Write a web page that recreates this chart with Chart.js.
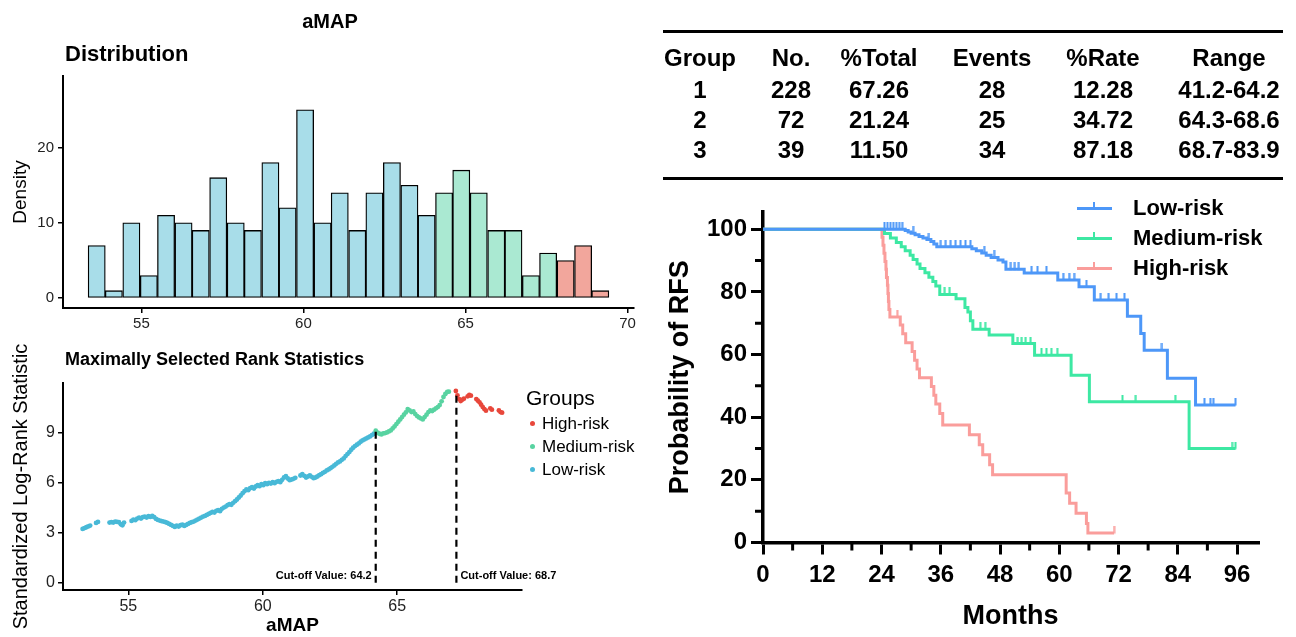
<!DOCTYPE html>
<html>
<head>
<meta charset="utf-8">
<title>aMAP</title>
<script src="https://cdn.jsdelivr.net/npm/chart.js@4.4.1/dist/chart.umd.min.js"></script>
<style>
  html, body { margin: 0; padding: 0; background: #fff; }
  body { width: 1296px; height: 637px; position: relative; overflow: hidden;
         font-family: "Liberation Sans", Arial, sans-serif; color: #000; }
  .txt { position: absolute; white-space: nowrap; }
  canvas { position: absolute; }
  .rule { position: absolute; background: #000; }
</style>
</head>
<body>
<canvas id="hist" width="650" height="340" style="left:0;top:0"></canvas>
<canvas id="rank" width="650" height="302" style="left:0;top:335px"></canvas>
<canvas id="km" width="646" height="452" style="left:650px;top:185px"></canvas>

<div class="rule" style="left:663px;top:30px;width:620px;height:3px"></div>
<div class="rule" style="left:663px;top:177px;width:620px;height:3px"></div>

<script>
// ---------- histogram (Distribution) ----------
const binCenters = [53.62, 54.15, 54.69, 55.23, 55.76, 56.30, 56.83, 57.37, 57.91, 58.44,
                    58.98, 59.51, 60.05, 60.59, 61.12, 61.66, 62.19, 62.73, 63.27, 63.80,
                    64.34, 64.87, 65.41, 65.95, 66.48, 67.02, 67.55, 68.09, 68.63, 69.16];
const binCounts = [7, 1, 10, 3, 11, 10, 9, 16, 10, 9,
                   18, 12, 25, 10, 14, 9, 14, 18, 15, 11,
                   14, 17, 14, 9, 9, 3, 6, 5, 7, 1];
const binGroups = ["L","L","L","L","L","L","L","L","L","L",
                   "L","L","L","L","L","L","L","L","L","L",
                   "M","M","M","M","M","M","M","H","H","H"];
const histXTicks = [55, 60, 65, 70];
const histYTicks = [0, 10, 20];

// ---------- maximally selected rank statistics ----------
const lowRiskStat = [
  [53.30,3.22],[53.37,3.27],[53.44,3.32],[53.51,3.37],[53.58,3.42],[53.80,3.58],[53.87,3.64],
  [54.30,3.60],[54.37,3.63],[54.44,3.60],[54.51,3.66],[54.58,3.64],[54.65,3.62],[54.72,3.50],[54.78,3.44],[54.84,3.60],
  [55.12,3.70],[55.19,3.78],[55.26,3.74],[55.33,3.84],[55.40,3.90],[55.47,3.84],[55.54,3.92],[55.61,3.96],[55.68,3.90],
  [55.75,3.98],[55.82,3.94],[55.89,4.00],[55.96,3.92],[56.03,3.82],[56.10,3.76],[56.17,3.72],[56.24,3.68],[56.31,3.66],
  [56.38,3.62],[56.45,3.58],[56.52,3.52],[56.59,3.46],[56.66,3.40],[56.73,3.34],[56.80,3.42],[56.87,3.36],[56.94,3.44],
  [57.01,3.48],[57.08,3.40],[57.15,3.46],[57.22,3.52],[57.29,3.58],[57.36,3.62],[57.43,3.66],[57.50,3.72],[57.57,3.78],
  [57.64,3.84],[57.71,3.90],[57.78,3.96],[57.85,4.00],[57.92,4.06],[57.99,4.12],[58.06,4.18],[58.13,4.24],[58.20,4.20],
  [58.27,4.30],[58.34,4.34],[58.41,4.28],[58.48,4.42],[58.55,4.50],[58.62,4.56],[58.69,4.64],[58.76,4.70],[58.83,4.66],
  [58.90,4.78],[58.97,4.88],[59.04,4.98],[59.11,5.10],[59.18,5.22],[59.25,5.36],[59.32,5.48],[59.39,5.58],[59.46,5.54],
  [59.53,5.66],[59.60,5.72],[59.67,5.64],[59.74,5.76],[59.81,5.84],[59.88,5.78],[59.95,5.90],[60.02,5.84],[60.09,5.96],
  [60.16,5.90],[60.23,5.98],[60.30,5.94],[60.37,6.02],[60.44,5.96],[60.51,6.04],[60.58,6.08],[60.65,6.02],[60.72,6.16],
  [60.79,6.30],[60.86,6.38],[60.93,6.24],[61.00,6.14],[61.07,6.18],[61.14,6.22],[61.21,6.28],[61.40,6.42],[61.47,6.50],
  [61.54,6.40],[61.61,6.30],[61.68,6.36],[61.75,6.42],[61.82,6.34],[61.89,6.26],[61.96,6.30],[62.03,6.36],[62.10,6.44],
  [62.17,6.50],[62.24,6.58],[62.31,6.64],[62.38,6.72],[62.45,6.78],[62.52,6.86],[62.59,6.94],[62.66,7.02],[62.73,7.12],
  [62.80,7.20],[62.87,7.26],[62.94,7.36],[63.01,7.44],[63.08,7.58],[63.15,7.70],[63.22,7.82],[63.29,7.96],[63.36,8.08],
  [63.43,8.18],[63.50,8.26],[63.57,8.34],[63.64,8.44],[63.71,8.52],[63.78,8.58],[63.85,8.64],[63.92,8.70],[63.99,8.76],
  [64.06,8.84],[64.13,8.92]
];
const mediumRiskStat = [
  [64.20,9.10],[64.27,8.98],[64.34,8.92],[64.41,8.88],[64.48,8.94],[64.55,8.96],[64.62,9.00],[64.69,9.06],[64.76,9.12],
  [64.83,9.24],[64.90,9.36],[64.97,9.50],[65.04,9.64],[65.11,9.78],[65.18,9.92],[65.25,10.06],[65.32,10.20],[65.39,10.40],
  [65.46,10.32],[65.53,10.22],[65.60,10.26],[65.67,10.10],[65.74,9.98],[65.81,9.90],[65.88,9.84],[65.95,9.78],[66.02,9.92],
  [66.09,10.06],[66.16,10.22],[66.23,10.32],[66.30,10.28],[66.37,10.36],[66.44,10.44],[66.51,10.52],[66.58,10.64],
  [66.65,10.86],[66.72,11.12],[66.79,11.30],[66.86,11.42],[66.92,11.44]
];
const highRiskStat = [
  [67.18,11.48],[67.24,11.22],[67.30,11.00],[67.36,10.88],[67.42,10.96],[67.48,11.02],[67.62,11.16],[67.68,11.24],
  [67.74,11.20],[67.94,11.00],[68.00,10.90],[68.06,10.80],[68.12,10.66],[68.18,10.52],[68.24,10.40],[68.30,10.30],
  [68.46,10.44],[68.52,10.36],[68.78,10.32],[68.84,10.22],[68.90,10.18]
];
const cutPositions = [64.2, 67.2];
const cutTops = [9.12, 11.46];
const cutTexts = ["Cut-off Value: 64.2", "Cut-off Value: 68.7"];
const rankXTicks = [55, 60, 65];
const rankYTicks = [0, 3, 6, 9];

// ---------- table ----------
const tableHead = ["Group", "No.", "%Total", "Events", "%Rate", "Range"];
const tabGroup = ["1", "2", "3"];
const tabNo = ["228", "72", "39"];
const tabTotal = ["67.26", "21.24", "11.50"];
const tabEvents = ["28", "25", "34"];
const tabRate = ["12.28", "34.72", "87.18"];
const tabRange = ["41.2-64.2", "64.3-68.6", "68.7-83.9"];

// ---------- Kaplan-Meier (RFS) ----------
const riskNames = ["Low-risk", "Medium-risk", "High-risk"];
const lowKM = [[0,100],[28.8,99.6],[29.4,99.1],[30.0,98.7],[30.8,98.2],[31.6,97.7],[32.4,97.2],[33.2,96.7],
  [34.0,96.1],[34.6,95.3],[35.2,94.4],[42.3,93.8],[43.2,93.1],[44.3,92.4],[45.2,91.7],[46.2,91.0],[47.6,90.2],
  [48.6,89.5],[49.2,87.2],[52.9,86.0],[59.7,83.8],[64.0,81.6],[67.1,77.4],[73.8,72.2],[76.5,66.7],[77.2,61.4],
  [81.9,52.4],[87.6,43.9],[95.7,43.9]];
const lowCensor = [[24.6,100],[25.2,100],[25.8,100],[26.4,100],[27.0,100],[27.6,100],[28.2,100],[30.4,98.7],
  [33.6,96.7],[36.0,94.4],[37.0,94.4],[38.0,94.4],[39.0,94.4],[40.0,94.4],[41.0,94.4],[42.0,94.4],[44.8,92.4],
  [46.8,91.0],[50.2,87.2],[51.0,87.2],[51.8,87.2],[54.4,86.0],[55.6,86.0],[57.4,86.0],[60.8,83.8],[62.0,83.8],
  [63.0,83.8],[65.5,81.6],[68.4,77.4],[70.0,77.4],[71.6,77.4],[73.2,77.4],[80.8,61.4],[89.4,43.9],[90.6,43.9],
  [91.2,43.9],[95.7,43.9]];
const mediumKM = [[0,100],[24.6,98.6],[25.8,97.2],[27.0,95.8],[28.0,94.4],[28.8,93.1],[29.8,91.7],[30.4,90.3],
  [31.2,88.9],[31.8,87.5],[32.8,86.1],[33.6,84.7],[34.4,83.3],[35.0,81.9],[35.8,79.2],[39.1,77.8],[40.9,75.0],
  [41.5,73.6],[42.0,70.8],[42.5,68.1],[45.8,66.2],[50.6,63.5],[55.0,59.8],[62.4,53.4],[66.1,44.9],[86.3,30.0],
  [95.7,30.0]];
const mediumCensor = [[36.8,79.2],[37.8,79.2],[44.0,68.1],[45.0,68.1],[51.6,63.5],[52.4,63.5],[53.2,63.5],
  [54.2,63.5],[56.4,59.8],[57.4,59.8],[58.4,59.8],[59.6,59.8],[72.8,44.9],[75.5,44.9],[83.5,44.9],[95.0,30.0],
  [95.7,30.0]];
const highKM = [[0,100],[24.1,97.4],[24.3,94.9],[24.5,92.3],[24.7,89.7],[24.9,87.2],[25.0,84.6],[25.2,82.1],
  [25.3,79.5],[25.4,76.9],[25.5,74.4],[25.7,72.0],[27.8,69.4],[28.3,66.6],[28.9,63.8],[30.2,61.0],[30.7,58.2],
  [31.2,55.4],[31.7,52.6],[34.1,49.8],[34.6,47.0],[35.0,44.2],[35.8,41.2],[36.4,37.5],[41.8,34.4],[43.8,31.2],
  [44.5,28.0],[45.9,24.8],[46.5,21.6],[61.4,15.8],[62.1,12.5],[63.4,9.3],[65.5,6.1],[65.8,3.0],[71.1,3.0]];
const highCensor = [[27.2,72.0],[71.1,3.0]];
const kmXTicks = [0, 12, 24, 36, 48, 60, 72, 84, 96];
const kmYTicks = [0, 20, 40, 60, 80, 100];
const kmMinorX = [6, 18, 30, 42, 54, 66, 78, 90];
const kmMinorY = [10, 30, 50, 70, 90];

// ---------- colours ----------
const histFill = { L: "#a8dde9", M: "#aae9d2", H: "#f2a69c" };
const rankColor = { L: "#48b9d7", M: "#58d3a1", H: "#e8473b" };
const kmColor = ["#4d97f8", "#3de8a3", "#fa9d9b"];

Chart.defaults.font.family = '"Liberation Sans", Arial, sans-serif';
Chart.defaults.color = "#000";

const toXY = pts => pts.map(p => ({ x: p[0], y: p[1] }));
const fixTicks = list => s => { s.ticks = list.map(v => ({ value: v })); };

function addText(txt, x, cy, size, weight, align) {
  const d = document.createElement("div");
  d.className = "txt";
  d.textContent = txt;
  d.style.font = weight + " " + size + 'px "Liberation Sans", Arial, sans-serif';
  d.style.lineHeight = size + "px";
  d.style.top = (cy - size / 2) + "px";
  if (align === "center") {
    d.style.left = (x - 150) + "px";
    d.style.width = "300px";
    d.style.textAlign = "center";
  } else {
    d.style.left = x + "px";
  }
  document.body.appendChild(d);
  return d;
}

// titles
addText("aMAP", 330, 21, 20, "bold", "center");
addText("Distribution", 65, 54, 22, "bold");
addText("Maximally Selected Rank Statistics", 65, 359, 18, "bold");

// histogram
new Chart(document.getElementById("hist"), {
  type: "bar",
  data: {
    datasets: [{
      data: binCenters.map((c, i) => ({ x: c, y: binCounts[i] })),
      backgroundColor: binGroups.map(g => histFill[g]),
      borderColor: "#000",
      borderWidth: 1.3,
      borderSkipped: false,
      barPercentage: 1,
      categoryPercentage: 1
    }]
  },
  options: {
    responsive: false, animation: false, events: [],
    layout: { padding: { top: 76, right: 16, left: 0, bottom: 0 } },
    plugins: { legend: { display: false }, tooltip: { enabled: false } },
    scales: {
      x: {
        type: "linear", min: 52.58, max: 70.2, offset: false,
        grid: { offset: false, drawOnChartArea: false, color: "#000", lineWidth: 1.5, tickLength: 5 },
        border: { color: "#000", width: 2 },
        ticks: { font: { size: 15 }, color: "#222", padding: 2, maxRotation: 0 },
        afterBuildTicks: fixTicks(histXTicks),
        afterFit: s => { s.height = 32; }
      },
      y: {
        min: -1.3, max: 29.5,
        grid: { drawOnChartArea: false, color: "#000", lineWidth: 1.5, tickLength: 5 },
        border: { color: "#000", width: 2 },
        ticks: { font: { size: 15 }, color: "#222", padding: 4 },
        afterBuildTicks: fixTicks(histYTicks),
        afterFit: s => { s.width = 63; },
        title: { display: true, text: "Density", font: { size: 19 }, color: "#000", padding: { top: 9 } }
      }
    }
  }
});

// rank statistics
const cutLabelPlugin = {
  id: "cutLabels",
  afterDatasetsDraw(chart) {
    const { ctx, scales: { x, y } } = chart;
    ctx.save();
    ctx.font = 'bold 11px "Liberation Sans", Arial, sans-serif';
    ctx.fillStyle = "#000";
    ctx.textBaseline = "middle";
    cutPositions.forEach((c, i) => {
      const px = x.getPixelForValue(c);
      ctx.textAlign = i === 0 ? "right" : "left";
      ctx.fillText(cutTexts[i], px + (i === 0 ? -4 : 4), y.getPixelForValue(0.4));
    });
    ctx.restore();
  }
};

const pointSet = (pts, col) => ({
  data: toXY(pts), backgroundColor: col, borderWidth: 0, pointRadius: 2.4, pointHoverRadius: 0
});
const cutSet = i => ({
  data: [{ x: cutPositions[i], y: 0 }, { x: cutPositions[i], y: cutTops[i] }],
  showLine: true, borderColor: "#000", borderWidth: 2.2, borderDash: [7, 5], pointRadius: 0
});

new Chart(document.getElementById("rank"), {
  type: "scatter",
  data: {
    datasets: [
      cutSet(0), cutSet(1),
      pointSet(highRiskStat, rankColor.H),
      pointSet(mediumRiskStat, rankColor.M),
      pointSet(lowRiskStat, rankColor.L)
    ]
  },
  options: {
    responsive: false, animation: false, events: [],
    layout: { padding: { top: 48, right: 128, left: 0, bottom: 0 } },
    plugins: { legend: { display: false }, tooltip: { enabled: false } },
    scales: {
      x: {
        type: "linear", min: 52.57, max: 69.64,
        grid: { drawOnChartArea: false, color: "#000", lineWidth: 1.5, tickLength: 5 },
        border: { color: "#000", width: 2 },
        ticks: { font: { size: 16 }, color: "#222", padding: 2, maxRotation: 0 },
        afterBuildTicks: fixTicks(rankXTicks),
        afterFit: s => { s.height = 47; },
        title: { display: true, text: "aMAP", font: { size: 19, weight: "bold" }, color: "#000", padding: { top: 0, bottom: 0 } }
      },
      y: {
        min: -0.44, max: 11.96,
        grid: { drawOnChartArea: false, color: "#000", lineWidth: 1.5, tickLength: 5 },
        border: { color: "#000", width: 2 },
        ticks: { font: { size: 16 }, color: "#222", padding: 3 },
        afterBuildTicks: fixTicks(rankYTicks),
        afterFit: s => { s.width = 63; },
        title: { display: true, text: "Standardized Log-Rank Statistic", font: { size: 20 }, color: "#000", padding: { top: 9 } }
      }
    }
  },
  plugins: [cutLabelPlugin]
});

// rank legend
addText("Groups", 526, 397, 21, "normal");
[["H", 423], ["M", 446], ["L", 469]].forEach(([g, cy], i) => {
  const dot = document.createElement("div");
  dot.style.cssText = "position:absolute;width:5px;height:5px;border-radius:50%;left:530px;top:" + (cy - 2.5) + "px;background:" + rankColor[g];
  document.body.appendChild(dot);
  addText(riskNames[2 - i], 542, cy, 17, "normal");
});

// table
const colCenters = [700, 791, 879, 992, 1103, 1229];
const rowCenters = [58, 90, 120, 150];
const tableCols = [tabGroup, tabNo, tabTotal, tabEvents, tabRate, tabRange];
tableHead.forEach((h, c) => {
  addText(h, colCenters[c], rowCenters[0], 24, "bold", "center");
  tableCols[c].forEach((v, r) => addText(v, colCenters[c], rowCenters[r + 1], 24, "bold", "center"));
});

// Kaplan-Meier
function censorMark(color) {
  const c = document.createElement("canvas");
  c.width = 3; c.height = 14;
  const g = c.getContext("2d");
  g.fillStyle = color;
  g.fillRect(0.5, 0, 2, 7.5);
  return c;
}
const minorTickPlugin = {
  id: "minorTicks",
  afterDraw(chart) {
    const { ctx, chartArea, scales: { x, y } } = chart;
    ctx.save();
    ctx.strokeStyle = "#000";
    ctx.lineWidth = 3;
    ctx.beginPath();
    kmMinorX.forEach(v => {
      const px = x.getPixelForValue(v);
      ctx.moveTo(px, chartArea.bottom); ctx.lineTo(px, chartArea.bottom + 8);
    });
    kmMinorY.forEach(v => {
      const py = y.getPixelForValue(v);
      ctx.moveTo(chartArea.left, py); ctx.lineTo(chartArea.left - 8, py);
    });
    ctx.stroke();
    ctx.restore();
  }
};
const kmLine = (pts, col) => ({
  data: toXY(pts), borderColor: col, borderWidth: 3, stepped: true, pointRadius: 0, fill: false
});
const kmCens = (pts, col) => ({
  data: toXY(pts), showLine: false, pointStyle: censorMark(col), pointRadius: 3, pointHoverRadius: 3
});

new Chart(document.getElementById("km"), {
  type: "line",
  data: {
    datasets: [
      kmLine(lowKM, kmColor[0]), kmCens(lowCensor, kmColor[0]),
      kmLine(mediumKM, kmColor[1]), kmCens(mediumCensor, kmColor[1]),
      kmLine(highKM, kmColor[2]), kmCens(highCensor, kmColor[2])
    ]
  },
  options: {
    responsive: false, animation: false, events: [],
    layout: { padding: { top: 27, right: 38, left: 0, bottom: 0 } },
    plugins: { legend: { display: false }, tooltip: { enabled: false } },
    scales: {
      x: {
        type: "linear", min: 0, max: 100.25,
        grid: { drawOnChartArea: false, color: "#000", lineWidth: 3, tickLength: 12 },
        border: { color: "#000", width: 3.5 },
        ticks: { font: { size: 24, weight: "bold" }, color: "#000", padding: 6, maxRotation: 0 },
        afterBuildTicks: fixTicks(kmXTicks),
        afterFit: s => { s.height = 94.5; },
        title: { display: true, text: "Months", font: { size: 27, weight: "bold" }, color: "#000", padding: { top: 0, bottom: 4 } }
      },
      y: {
        min: 0, max: 105.5,
        grid: { drawOnChartArea: false, color: "#000", lineWidth: 3, tickLength: 12 },
        border: { color: "#000", width: 3.5 },
        ticks: { font: { size: 24, weight: "bold" }, color: "#000", padding: 4 },
        afterBuildTicks: fixTicks(kmYTicks),
        afterFit: s => { s.width = 113; },
        title: { display: true, text: "Probability of RFS", font: { size: 27, weight: "bold" }, color: "#000", padding: { top: 14 } }
      }
    }
  },
  plugins: [minorTickPlugin]
});

// KM legend
[208, 238, 268].forEach((cy, i) => {
  const line = document.createElement("div");
  line.style.cssText = "position:absolute;left:1077px;width:35px;height:3px;top:" + (cy - 1.5) + "px;background:" + kmColor[i];
  const tick = document.createElement("div");
  tick.style.cssText = "position:absolute;left:1093px;width:2px;height:6px;top:" + (cy - 6) + "px;background:" + kmColor[i];
  document.body.appendChild(line);
  document.body.appendChild(tick);
  addText(riskNames[i], 1133, cy, 22, "bold");
});
</script>
</body>
</html>
